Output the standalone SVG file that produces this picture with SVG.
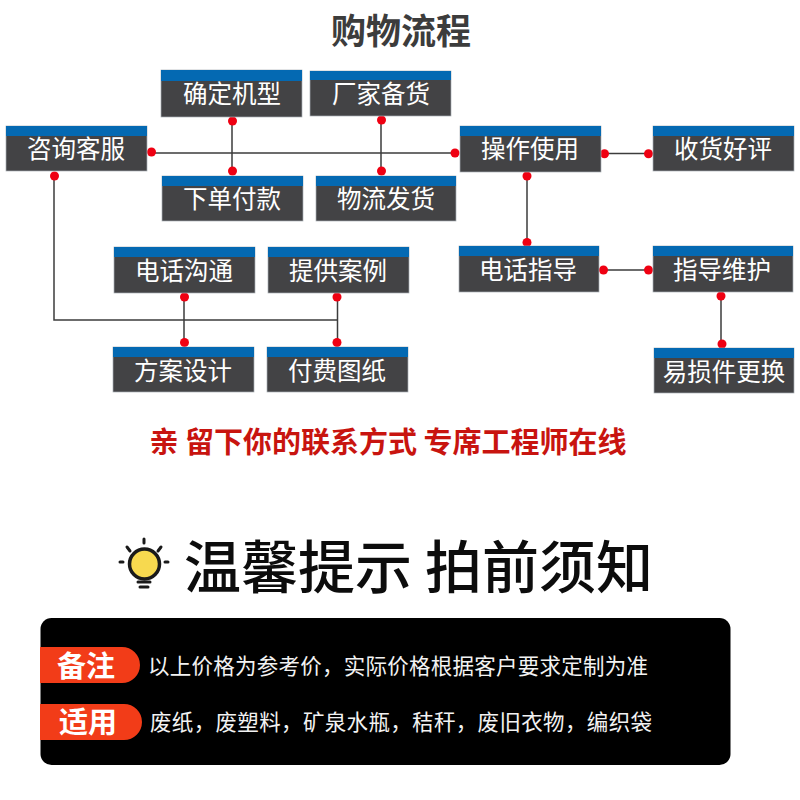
<svg xmlns="http://www.w3.org/2000/svg" width="800" height="800" viewBox="0 0 800 800">
<style>
text{font-family:"Noto Sans CJK SC",sans-serif}
.body{fill:#434345;stroke:#a9b0b5;stroke-width:.7}
.top{fill:#0469b2}
.n{fill:#fff;font-size:24.500px;text-anchor:middle;font-weight:400}
.c{fill:none;stroke:#3c3c3c;stroke-width:1.500}
.d{fill:#ef0012}
.d circle{r:4.500px}
</style>
<rect width="800" height="800" fill="#fff"/>
<text x="401" y="44" font-size="35" font-weight="700" text-anchor="middle" fill="#3c3c3c">购物流程</text>
<g id="connectors">
<path class="c" d="M232 121V171M381 120V171M152 153H455M605 153.500H648M527 176V242M604 270H648M721 296V343M54 176V320H337.500V297M184 297V342M337.500 320V342"/>
<g class="d">
<circle cx="232.500" cy="121"/><circle cx="232.500" cy="171"/>
<circle cx="381.500" cy="120"/><circle cx="381.500" cy="171"/>
<circle cx="151.500" cy="152"/><circle cx="455" cy="153"/>
<circle cx="54.500" cy="176"/><circle cx="527" cy="176"/><circle cx="527" cy="242.500"/>
<circle cx="604.500" cy="153.700"/><circle cx="648.500" cy="153.700"/>
<circle cx="603.500" cy="270"/><circle cx="648.500" cy="270"/>
<circle cx="721" cy="296"/><circle cx="722" cy="344"/>
<circle cx="184.500" cy="297"/><circle cx="337" cy="297"/>
<circle cx="184.500" cy="342.500"/><circle cx="337" cy="342.500"/>
</g>
</g>
<g id="n1"><rect class="body" x="161" y="70" width="141" height="47"/><rect class="top" x="161" y="70" width="141" height="11"/><text class="n" x="232" y="103">确定机型</text></g>
<g id="n2"><rect class="body" x="310" y="71" width="141" height="45"/><rect class="top" x="310" y="71" width="141" height="9"/><text class="n" x="381" y="103">厂家备货</text></g>
<g id="n3"><rect class="body" x="6" y="126" width="141" height="45"/><rect class="top" x="6" y="126" width="141" height="10"/><text class="n" x="76" y="158">咨询客服</text></g>
<g id="n4"><rect class="body" x="162" y="176" width="141" height="45"/><rect class="top" x="162" y="176" width="141" height="10"/><text class="n" x="232" y="208">下单付款</text></g>
<g id="n5"><rect class="body" x="316" y="176" width="140" height="45"/><rect class="top" x="316" y="176" width="140" height="10"/><text class="n" x="386" y="208">物流发货</text></g>
<g id="n6"><rect class="body" x="460" y="126" width="141" height="46"/><rect class="top" x="460" y="126" width="141" height="10"/><text class="n" x="530" y="158">操作使用</text></g>
<g id="n7"><rect class="body" x="653" y="126" width="141" height="45"/><rect class="top" x="653" y="126" width="141" height="10"/><text class="n" x="723" y="158">收货好评</text></g>
<g id="n8"><rect class="body" x="459" y="246" width="140" height="46"/><rect class="top" x="459" y="246" width="140" height="10"/><text class="n" x="528" y="279">电话指导</text></g>
<g id="n9"><rect class="body" x="653" y="246" width="140" height="46"/><rect class="top" x="653" y="246" width="140" height="10"/><text class="n" x="722" y="279">指导维护</text></g>
<g id="n10"><rect class="body" x="114" y="247" width="141" height="46"/><rect class="top" x="114" y="247" width="141" height="10"/><text class="n" x="184" y="280">电话沟通</text></g>
<g id="n11"><rect class="body" x="268" y="247" width="141" height="46"/><rect class="top" x="268" y="247" width="141" height="10"/><text class="n" x="338" y="280">提供案例</text></g>
<g id="n12"><rect class="body" x="113" y="347" width="141" height="45"/><rect class="top" x="113" y="347" width="141" height="10"/><text class="n" x="183" y="380">方案设计</text></g>
<g id="n13"><rect class="body" x="267" y="347" width="141" height="45"/><rect class="top" x="267" y="347" width="141" height="10"/><text class="n" x="337" y="380">付费图纸</text></g>
<g id="n14"><rect class="body" x="654" y="348" width="140" height="45"/><rect class="top" x="654" y="348" width="140" height="10"/><text class="n" x="724" y="381">易损件更换</text></g>
<text x="388" y="453" font-size="29" font-weight="700" text-anchor="middle" fill="#c8140f">亲 留下你的联系方式 专席工程师在线</text>
<g id="bulb" stroke="#1a1a1a" stroke-linecap="round" fill="none">
<circle cx="144.500" cy="564" r="15" fill="#f7d94f" stroke-width="3.500"/>
<path stroke-width="3" d="M144 539V543M127 547L130 551M161 547L158 551M120 562H123M165 562H168M138 582H150M140 587H148"/>
</g>
<text x="418.500" y="588" font-size="57" text-anchor="middle" fill="#0c0c0c" font-weight="500">温馨提示 拍前须知</text>
<rect x="40.500" y="618" width="690" height="147" rx="11" fill="#000"/>
<path d="M40 647H122a18 18 0 0 1 0 36H40zM40 704H124a18 18 0 0 1 0 36H40z" fill="#f23c18"/>
<text x="86" y="677" font-size="29" font-weight="700" text-anchor="middle" fill="#fff">备注</text>
<text x="88" y="733" font-size="29" font-weight="700" text-anchor="middle" fill="#fff">适用</text>
<text x="148" y="674" font-size="21.500" fill="#f2f2f2" textLength="500">以上价格为参考价，实际价格根据客户要求定制为准</text>
<text x="150" y="730" font-size="21.500" fill="#f2f2f2" textLength="502">废纸，废塑料，矿泉水瓶，秸秆，废旧衣物，编织袋</text>
</svg>
